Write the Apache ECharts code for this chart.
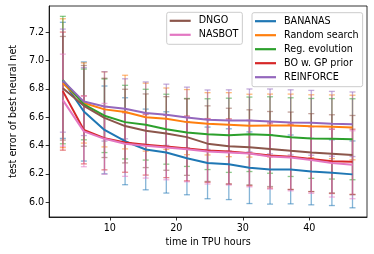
<!DOCTYPE html>
<html><head><meta charset="utf-8">
<script src="https://cdn.jsdelivr.net/npm/echarts@6/dist/echarts.min.js"></script>
<style>html,body{margin:0;padding:0;background:#fff}#c{width:374px;height:254px}</style>
</head><body><div id="c"></div>
<script>
// time in TPU hours at each evaluation point
const hours = [2.94, 6.1, 9.2, 12.3, 15.4, 18.5, 21.6, 24.7, 27.9, 31.0, 34.1, 37.2, 40.3, 43.4, 46.5];
const yTicks = [6.0, 6.2, 6.4, 6.6, 6.8, 7.0, 7.2];
const xTicks = [10, 20, 30, 40];

const bananasMean = [6.86, 6.64, 6.51, 6.43, 6.372, 6.351, 6.31, 6.277, 6.268, 6.243, 6.231, 6.231, 6.216, 6.208, 6.196];
const bananasStd  = [0.41, 0.35, 0.31, 0.307, 0.285, 0.287, 0.258, 0.253, 0.25, 0.253, 0.245, 0.243, 0.235, 0.232, 0.236];
const randomMean  = [6.84, 6.70, 6.655, 6.636, 6.60, 6.589, 6.565, 6.553, 6.547, 6.54, 6.541, 6.541, 6.536, 6.532, 6.527];
const randomStd   = [0.455, 0.283, 0.265, 0.26, 0.24, 0.217, 0.23, 0.22, 0.226, 0.222, 0.222, 0.222, 0.222, 0.225, 0.228];
const evoMean     = [6.862, 6.69, 6.61, 6.565, 6.547, 6.515, 6.492, 6.48, 6.472, 6.479, 6.474, 6.459, 6.45, 6.447, 6.444];
const evoStd      = [0.45, 0.25, 0.26, 0.26, 0.25, 0.247, 0.24, 0.25, 0.262, 0.263, 0.27, 0.278, 0.282, 0.284, 0.286];
const boMean      = [6.784, 6.51, 6.452, 6.421, 6.405, 6.393, 6.379, 6.365, 6.358, 6.346, 6.329, 6.32, 6.304, 6.288, 6.285];
const boStd       = [0.417, 0.24, 0.224, 0.21, 0.214, 0.22, 0.229, 0.225, 0.23, 0.23, 0.23, 0.23, 0.23, 0.227, 0.23];
const reinMean    = [6.858, 6.71, 6.676, 6.659, 6.629, 6.617, 6.598, 6.582, 6.577, 6.577, 6.57, 6.563, 6.56, 6.553, 6.55];
const reinStd     = [0.364, 0.24, 0.245, 0.212, 0.22, 0.216, 0.214, 0.21, 0.216, 0.222, 0.229, 0.23, 0.229, 0.229, 0.228];
const dngoMean    = [6.804, 6.68, 6.595, 6.537, 6.504, 6.485, 6.459, 6.413, 6.395, 6.387, 6.375, 6.362, 6.35, 6.341, 6.332];
const dngoStd     = [0.366, 0.285, 0.28, 0.26, 0.26, 0.26, 0.27, 0.267, 0.268, 0.265, 0.265, 0.274, 0.275, 0.276, 0.28];
const nasbotMean  = [6.72, 6.50, 6.447, 6.412, 6.398, 6.386, 6.374, 6.358, 6.351, 6.343, 6.322, 6.315, 6.297, 6.276, 6.264];
const nasbotStd   = [0.325, 0.25, 0.25, 0.23, 0.228, 0.228, 0.23, 0.23, 0.23, 0.235, 0.23, 0.235, 0.235, 0.24, 0.24];

const algos = [
  {name: 'BANANAS', mean: bananasMean, std: bananasStd, color: '#1f77b4'},
  {name: 'Random search', mean: randomMean, std: randomStd, color: '#ff7f0e'},
  {name: 'Reg. evolution', mean: evoMean, std: evoStd, color: '#2ca02c'},
  {name: 'BO w. GP prior', mean: boMean, std: boStd, color: '#d62728'},
  {name: 'REINFORCE', mean: reinMean, std: reinStd, color: '#9467bd'},
  {name: 'DNGO', mean: dngoMean, std: dngoStd, color: '#8c564b'},
  {name: 'NASBOT', mean: nasbotMean, std: nasbotStd, color: '#e377c2'}
];

const FONT = 'DejaVu Sans';
const series = [];
algos.forEach((a, i) => {
  series.push({
    name: 'eb' + i, type: 'custom', z: 2, silent: true,
    encode: {x: 0, y: 1},
    data: hours.map((h, k) => [h, a.mean[k], a.std[k]]),
    renderItem: (params, api) => {
      const x = api.value(0), m = api.value(1), s = api.value(2);
      const t = api.coord([x, m + s]), b = api.coord([x, m - s]);
      const st = {stroke: a.color, lineWidth: 1.3, opacity: 0.55};
      return {type: 'group', children: [
        {type: 'line', shape: {x1: t[0], y1: t[1], x2: b[0], y2: b[1]}, style: st},
        {type: 'line', shape: {x1: t[0] - 3, y1: t[1], x2: t[0] + 3, y2: t[1]}, style: st},
        {type: 'line', shape: {x1: b[0] - 3, y1: b[1], x2: b[0] + 3, y2: b[1]}, style: st}
      ]};
    }
  });
});
algos.forEach((a) => {
  series.push({
    name: a.name, type: 'line', z: 3, symbol: 'none', smooth: false,
    color: a.color,
    lineStyle: {width: 2, color: a.color},
    data: hours.map((h, k) => [h, a.mean[k]])
  });
});

const legendCommon = {
  orient: 'vertical', icon: 'rect', itemWidth: 21, itemHeight: 2.2, itemGap: 3,
  padding: [3, 4, 4, 3], backgroundColor: 'rgba(255,255,255,0.8)',
  borderColor: '#cccccc', borderWidth: 1, borderRadius: 2,
  textStyle: {fontFamily: FONT, fontSize: 9.6, lineHeight: 11, color: '#000', padding: [0, 0, 0, 3]}
};

const chart = echarts.init(document.getElementById('c'), null, {renderer: 'canvas'});
chart.setOption({
  animation: false,
  backgroundColor: '#fff',
  grid: {left: 42, right: 7, top: 6, bottom: 37, show: true, borderColor: '#000', borderWidth: 0.8, backgroundColor: 'transparent'},
  legend: [
    Object.assign({}, legendCommon, {left: 166.7, top: 12.3, data: ['DNGO', 'NASBOT']}),
    Object.assign({}, legendCommon, {left: 252, top: 12.7, data: ['BANANAS', 'Random search', 'Reg. evolution', 'BO w. GP prior', 'REINFORCE']})
  ],
  xAxis: {
    type: 'value', min: 0.88, max: 48.68,
    name: 'time in TPU hours', nameLocation: 'middle', nameGap: 18.5,
    nameTextStyle: {fontFamily: FONT, fontSize: 9.6, color: '#000'},
    axisLine: {show: true, lineStyle: {color: '#000', width: 0.8}},
    axisTick: {show: true, inside: false, length: 3.5, lineStyle: {color: '#000', width: 0.8}, customValues: xTicks},
    axisLabel: {fontFamily: FONT, fontSize: 9.6, color: '#000', margin: 6, customValues: xTicks, formatter: v => String(v)},
    splitLine: {show: false}
  },
  yAxis: {
    type: 'value', min: 5.895, max: 7.385,
    name: 'test error of best neural net', nameLocation: 'middle', nameGap: 30.5, nameRotate: 90,
    nameTextStyle: {fontFamily: FONT, fontSize: 9.6, color: '#000'},
    axisLine: {show: true, lineStyle: {color: '#000', width: 0.8}},
    axisTick: {show: true, inside: false, length: 3.5, lineStyle: {color: '#000', width: 0.8}, customValues: yTicks},
    axisLabel: {fontFamily: FONT, fontSize: 9.6, color: '#000', margin: 5, customValues: yTicks, formatter: v => Number(v).toFixed(1)},
    splitLine: {show: false}
  },
  series: series
});
</script>
</body></html>
